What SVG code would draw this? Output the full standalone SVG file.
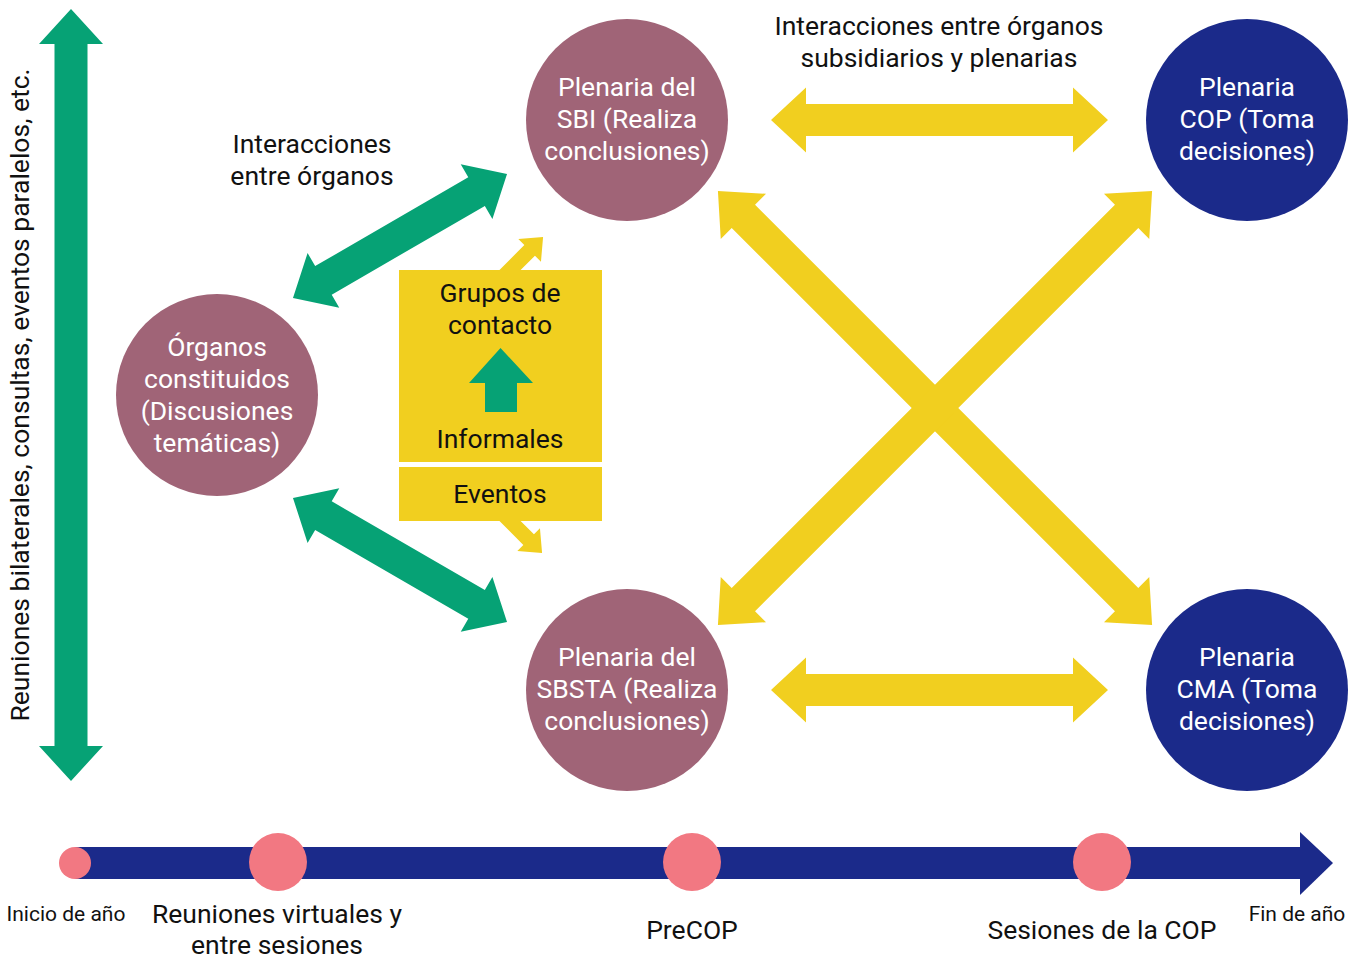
<svg xmlns="http://www.w3.org/2000/svg" width="1364" height="958" viewBox="0 0 1364 958">
<style>
text{font-family:Roboto,"Liberation Sans",sans-serif;text-anchor:middle}
.w{fill:#ffffff;font-size:26.5px}
.k{fill:#111111;font-size:26.5px}
.s{fill:#111111;font-size:21px}
.y{fill:#F1CF1F}
.g{fill:#06A275}
.n{fill:#1B2A8A}
.m{fill:#A06477}
.p{fill:#F27882}
</style>
<rect width="1364" height="958" fill="#ffffff"/>
<g id="connectors">
  <path class="g" transform="translate(71,395) rotate(90)" d="M-386 0 L-351 -32 L-351 -16.5 L351 -16.5 L351 -32 L386 0 L351 32 L351 16.5 L-351 16.5 L-351 32 Z"/>
  <path class="y" transform="translate(939.5,120)" d="M-168.5 0 L-133.5 -32.5 L-133.5 -16 L133.5 -16 L133.5 -32.5 L168.5 0 L133.5 32.5 L133.5 16 L-133.5 16 L-133.5 32.5 Z"/>
  <path class="y" transform="translate(939.5,690)" d="M-168.5 0 L-133.5 -32.5 L-133.5 -16 L133.5 -16 L133.5 -32.5 L168.5 0 L133.5 32.5 L133.5 16 L-133.5 16 L-133.5 32.5 Z"/>
  <path class="y" transform="translate(935,408) rotate(45)" d="M-307 0 L-271 -32 L-271 -16.5 L271 -16.5 L271 -32 L307 0 L271 32 L271 16.5 L-271 16.5 L-271 32 Z"/>
  <path class="y" transform="translate(935,408) rotate(-45)" d="M-307 0 L-271 -32 L-271 -16.5 L271 -16.5 L271 -32 L307 0 L271 32 L271 16.5 L-271 16.5 L-271 32 Z"/>
  <path class="g" transform="translate(400,236) rotate(-30.1)" d="M-123.7 0 L-88.5 -31.6 L-88.5 -16.5 L88.5 -16.5 L88.5 -31.6 L123.7 0 L88.5 31.6 L88.5 16.5 L-88.5 16.5 L-88.5 31.6 Z"/>
  <path class="g" transform="translate(400,560) rotate(30.1)" d="M-123.7 0 L-88.5 -31.6 L-88.5 -16.5 L88.5 -16.5 L88.5 -31.6 L123.7 0 L88.5 31.6 L88.5 16.5 L-88.5 16.5 L-88.5 31.6 Z"/>
  <path class="y" transform="translate(495,285) rotate(-45)" d="M0 -7.5 L49 -7.5 L49 -16 L68 0 L49 16 L49 7.5 L0 7.5 Z"/>
  <path class="y" transform="translate(494,505) rotate(45)" d="M0 -7.5 L49 -7.5 L49 -16 L68 0 L49 16 L49 7.5 L0 7.5 Z"/>
</g>
<g id="sbi">
  <circle class="m" cx="627" cy="120" r="101"/>
  <text class="w" x="627" y="96">Plenaria del</text>
  <text class="w" x="627" y="128">SBI (Realiza</text>
  <text class="w" x="627" y="160">conclusiones)</text>
</g>
<g id="cop">
  <circle class="n" cx="1247" cy="120" r="101"/>
  <text class="w" x="1247" y="96">Plenaria</text>
  <text class="w" x="1247" y="128">COP (Toma</text>
  <text class="w" x="1247" y="160">decisiones)</text>
</g>
<g id="organos">
  <circle class="m" cx="217" cy="395" r="101"/>
  <text class="w" x="217" y="356">Órganos</text>
  <text class="w" x="217" y="388">constituidos</text>
  <text class="w" x="217" y="420">(Discusiones</text>
  <text class="w" x="217" y="452">temáticas)</text>
</g>
<g id="sbsta">
  <circle class="m" cx="627" cy="690" r="101"/>
  <text class="w" x="627" y="666">Plenaria del</text>
  <text class="w" x="627" y="698">SBSTA (Realiza</text>
  <text class="w" x="627" y="730">conclusiones)</text>
</g>
<g id="cma">
  <circle class="n" cx="1247" cy="690" r="101"/>
  <text class="w" x="1247" y="666">Plenaria</text>
  <text class="w" x="1247" y="698">CMA (Toma</text>
  <text class="w" x="1247" y="730">decisiones)</text>
</g>
<g id="informales">
  <rect class="y" x="399" y="270" width="203" height="251"/>
  <rect x="399" y="462" width="203" height="5" fill="#ffffff"/>
  <text class="k" x="500" y="302">Grupos de</text>
  <text class="k" x="500" y="334">contacto</text>
  <path class="g" d="M500.5 348 L533 383 L517 383 L517 412 L485 412 L485 383 L469 383 Z"/>
  <text class="k" x="500" y="448">Informales</text>
  <text class="k" x="500" y="503">Eventos</text>
</g>
<g id="labels">
  <text class="k" x="939" y="35">Interacciones entre órganos</text>
  <text class="k" x="939" y="67">subsidiarios y plenarias</text>
  <text class="k" x="312" y="153">Interacciones</text>
  <text class="k" x="312" y="185">entre órganos</text>
  <text class="k" transform="translate(29,395) rotate(-90)" x="0" y="0">Reuniones bilaterales, consultas, eventos paralelos, etc.</text>
</g>
<g id="timeline">
  <rect class="n" x="75" y="847" width="1226" height="32"/>
  <path class="n" d="M1300 832 L1333 863 L1300 895 Z"/>
  <circle class="p" cx="75" cy="863" r="16"/>
  <circle class="p" cx="278" cy="862" r="29"/>
  <circle class="p" cx="692" cy="862" r="29"/>
  <circle class="p" cx="1102" cy="862" r="29"/>
  <text class="s" x="66" y="921">Inicio de año</text>
  <text class="k" x="277" y="923">Reuniones virtuales y</text>
  <text class="k" x="277" y="954">entre sesiones</text>
  <text class="k" x="692" y="939">PreCOP</text>
  <text class="k" x="1102" y="939">Sesiones de la COP</text>
  <text class="s" x="1297" y="921">Fin de año</text>
</g>
</svg>
